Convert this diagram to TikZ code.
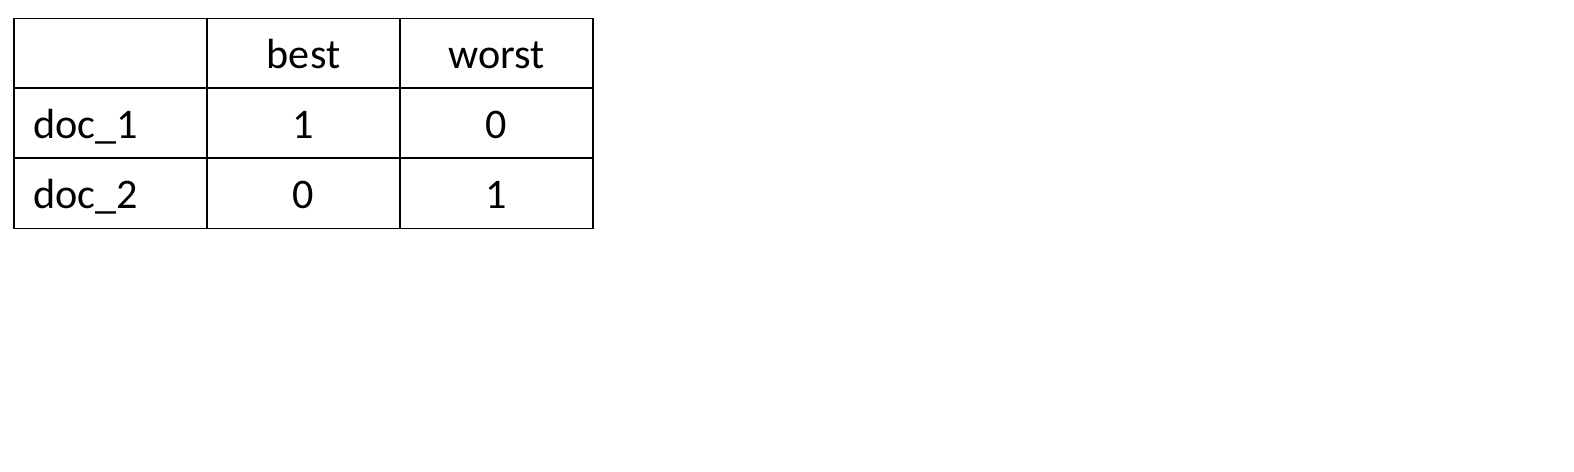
\documentclass[tikz,border=0pt]{standalone}
\usepackage{fontspec}
\setmainfont{Carlito}
\usepackage{tikz}
\usetikzlibrary{positioning}

\begin{document}
\begin{tikzpicture}[cell/.style={anchor=base, inner sep=0pt, font=\fontsize{24}{29}\selectfont}]
\useasboundingbox (0,0) rectangle (31.48,-9.44);
\draw[line width=1.1pt] (0.28,-0.37) rectangle (11.86,-4.57);
\draw[line width=1.1pt] (0.28,-1.76) -- (11.86,-1.76);
\draw[line width=1.1pt] (0.28,-3.16) -- (11.86,-3.16);
\draw[line width=1.1pt] (4.14,-0.37) -- (4.14,-4.57);
\draw[line width=1.1pt] (8.00,-0.37) -- (8.00,-4.57);
\node[cell] (best) at (6.07,-1.36) {best};
\node[cell] (worst) at (9.93,-1.36) {worst};
\node[cell, anchor=base west] (doc1) at (0.66,-2.76) {doc\_1};
\node[cell, anchor=base west] (doc2) at (0.66,-4.16) {doc\_2};
\node[cell] (b1) at (6.07,-2.76) {1};
\node[cell] (w1) at (9.93,-2.76) {0};
\node[cell] (b2) at (6.07,-4.16) {0};
\node[cell] (w2) at (9.93,-4.16) {1};
\end{tikzpicture}
\end{document}
